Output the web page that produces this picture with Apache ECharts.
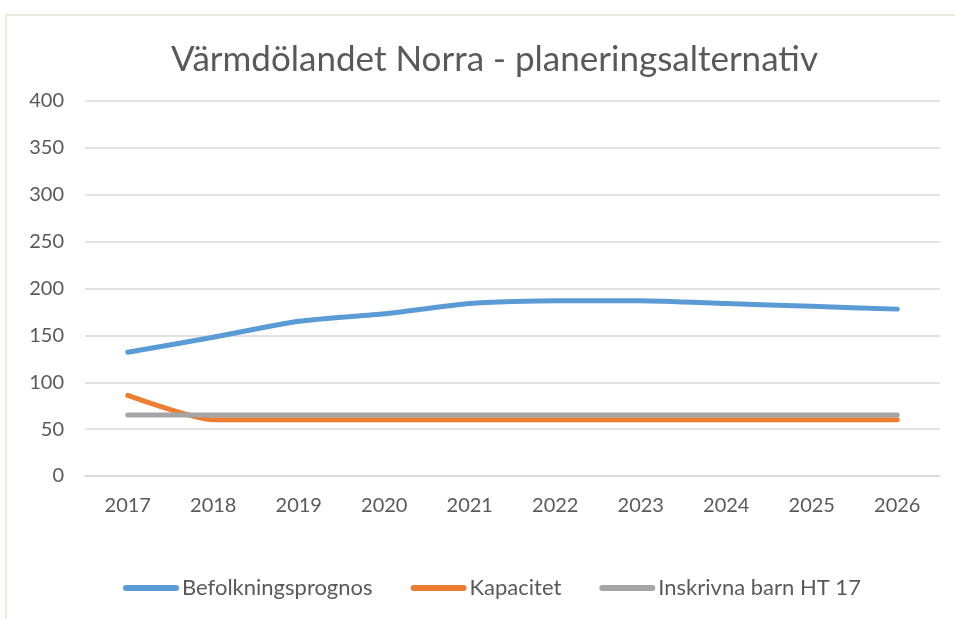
<!DOCTYPE html>
<html>
<head>
<meta charset="utf-8">
<script src="https://cdn.jsdelivr.net/npm/echarts@6/dist/echarts.min.js"></script>
<style>
  html, body { margin: 0; padding: 0; background: #fff; }
  #frame {
    position: absolute; left: 5px; top: 14px; width: 950px; height: 605px;
    border-left: 2px solid #ecebdc; border-top: 2px solid #ecebdc;
    box-sizing: border-box;
  }
  #chart { position: absolute; left: 0; top: 0; width: 955px; height: 619px; }
</style>
</head>
<body>
<div id="frame"></div>
<div id="chart"></div>
<script>
const years = ['2017', '2018', '2019', '2020', '2021', '2022', '2023', '2024', '2025', '2026'];
const befolkningsprognos = [132, 148, 165, 173, 184, 187, 187, 184, 181, 178];
const kapacitet = [86, 60, 60, 60, 60, 60, 60, 60, 60, 60];
const inskrivnaBarn = [65, 65, 65, 65, 65, 65, 65, 65, 65, 65];

const font = 'Lato, "Open Sans", sans-serif';
const textColor = '#595959';
// rounded bar used as legend marker
const legendIcon = 'path://M3,0 L53,0 A3,3 0 0 1 53,6 L3,6 A3,3 0 0 1 3,0 Z';

const chart = echarts.init(document.getElementById('chart'));

function lineSeries(name, data, color) {
  return {
    name: name,
    type: 'line',
    data: data,
    symbol: 'none',
    smooth: 0.2,
    lineStyle: { width: 5, color: color, cap: 'round', join: 'round' },
    itemStyle: { color: color },
  };
}

chart.setOption({
  animation: false,
  title: {
    text: 'Värmdölandet Norra - planeringsalternativ',
    left: 166,
    top: 37,
    textStyle: { fontFamily: font, fontSize: 35, fontWeight: 'normal', color: textColor },
  },
  grid: { left: 85, right: 15, top: 101, bottom: 143 },
  xAxis: {
    type: 'category',
    data: years,
    boundaryGap: true,
    axisLine: { show: true, lineStyle: { color: '#d9d9d9', width: 1.5 } },
    axisTick: { show: false },
    axisLabel: { color: textColor, fontFamily: font, fontSize: 20, margin: 20 },
  },
  yAxis: {
    type: 'value',
    min: 0,
    max: 400,
    interval: 50,
    axisLine: { show: false },
    axisTick: { show: false },
    axisLabel: { color: textColor, fontFamily: font, fontSize: 20, margin: 21 },
    splitLine: { lineStyle: { color: '#d9d9d9', width: 1.5 } },
  },
  legend: {
    bottom: 15,
    left: 118,
    icon: legendIcon,
    itemWidth: 56,
    itemHeight: 6,
    itemGap: 38,
    textStyle: { color: textColor, fontFamily: font, fontSize: 22, padding: [0, 0, 0, -2] },
    data: ['Befolkningsprognos', 'Kapacitet', 'Inskrivna barn HT 17'],
  },
  series: [
    lineSeries('Befolkningsprognos', befolkningsprognos, '#5b9bd5'),
    lineSeries('Kapacitet', kapacitet, '#ed7d31'),
    lineSeries('Inskrivna barn HT 17', inskrivnaBarn, '#a5a5a5'),
  ],
});
</script>
</body>
</html>
